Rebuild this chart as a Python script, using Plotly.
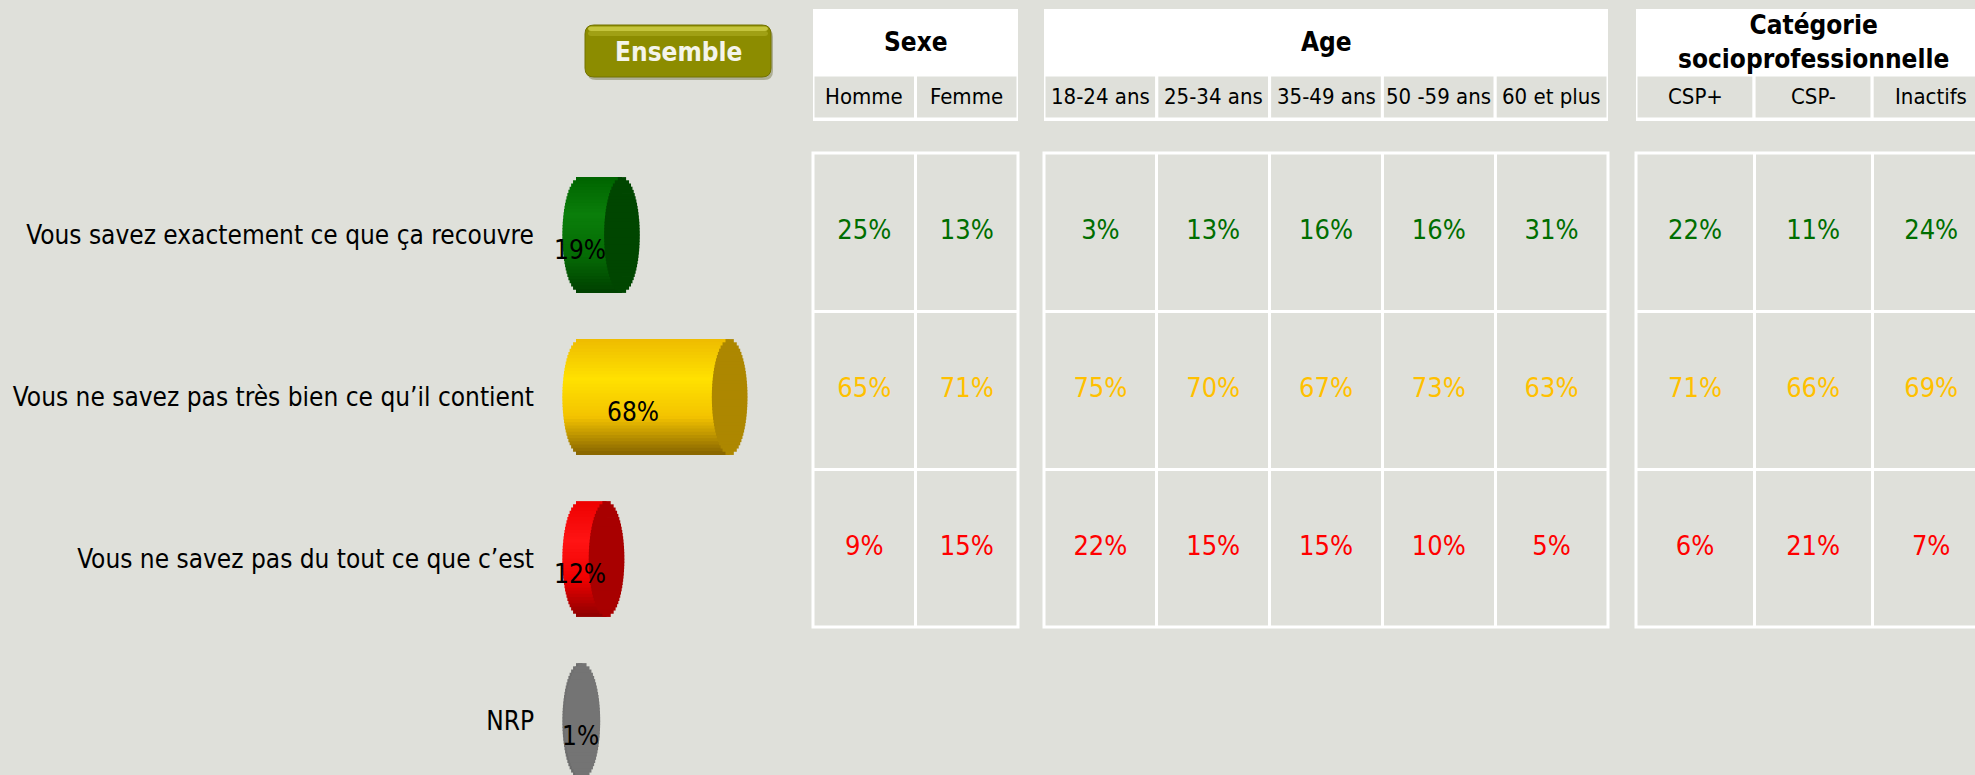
import math
import plotly.graph_objects as go

W, H = 1975, 775
BG = "#dfe0da"
FONT = "DejaVu Sans Condensed, DejaVu Sans, sans-serif"

# answers and the "Ensemble" totals
answers = [
    "Vous savez exactement ce que ça recouvre",
    "Vous ne savez pas très bien ce qu’il contient",
    "Vous ne savez pas du tout ce que c’est",
    "NRP",
]
ensemble = [19, 68, 12, 1]

# breakdown tables (one list per answer row)
sexe_cols = ["Homme", "Femme"]
sexe_vals = [[25, 13], [65, 71], [9, 15]]
age_cols = ["18-24 ans", "25-34 ans", "35-49 ans", "50 -59 ans", "60 et plus"]
age_vals = [[3, 13, 16, 16, 31], [75, 70, 67, 73, 63], [22, 15, 15, 10, 5]]
csp_cols = ["CSP+", "CSP-", "Inactifs"]
csp_vals = [[22, 11, 24], [71, 66, 69], [6, 21, 7]]

row_colors = ["#006e00", "#ffc000", "#ff0000"]

# cylinder shading, top (-1) to bottom (+1), and the darker right cap
cyl_grad = [
    [(-1, "#006400"), (-0.35, "#0a7e0a"), (0.35, "#056c05"), (1, "#004000")],
    [(-1, "#eebb00"), (-0.3, "#ffe100"), (0.35, "#f3c300"), (1, "#866400")],
    [(-1, "#ee0000"), (-0.3, "#ff1414"), (0.35, "#f00000"), (1, "#8e0000")],
    [(-1, "#6e6e6e"), (0, "#727272"), (1, "#6a6a6a")],
]
cyl_cap = ["#004600", "#ad8700", "#a80000", "#747474"]


def fx(p):
    return p / W


def fy(p):
    return 1 - p / H


def grad(stops, t):
    for (t0, c0), (t1, c1) in zip(stops, stops[1:]):
        if t <= t1:
            f = (t - t0) / (t1 - t0)
            a = [int(c0[k:k + 2], 16) for k in (1, 3, 5)]
            b = [int(c1[k:k + 2], 16) for k in (1, 3, 5)]
            return "rgb(%d,%d,%d)" % tuple(round(x + (y - x) * f) for x, y in zip(a, b))
    return stops[-1][1]


def rrect(x0, y0, x1, y1, r):
    # rounded rectangle path in paper coords, from pixel corners
    r_x, r_y = r / W, r / H
    a, b, c, d = fx(x0), fy(y0), fx(x1), fy(y1)
    return (f"M{a + r_x},{b} L{c - r_x},{b} Q{c},{b} {c},{b - r_y} "
            f"L{c},{d + r_y} Q{c},{d} {c - r_x},{d} L{a + r_x},{d} "
            f"Q{a},{d} {a},{d + r_y} L{a},{b - r_y} Q{a},{b} {a + r_x},{b} Z")


BH = 0.71   # cylinder thickness in row units
RX = 8.1    # end ellipse half width in % units
N = 36      # horizontal slices per cylinder

fig = go.Figure()
shapes = []
annotations = []

# --- cylinders (drawn as stacked horizontal slices) -------------------------
for i, v in enumerate(ensemble):
    cap_x, cap_y = [], []
    for j in range(N):
        t = -1 + (2 * j + 1) / N
        s = math.sqrt(1 - t * t)
        yy = i + t * BH / 2
        fig.add_trace(go.Scatter(
            x=[-RX * s, v], y=[yy, yy], mode="lines", xaxis="x", yaxis="y",
            line=dict(color=grad(cyl_grad[i], t), width=4), hoverinfo="skip",
        ))
        cap_x += [v - RX * s, v + RX * s, None]
        cap_y += [yy, yy, None]
    fig.add_trace(go.Scatter(
        x=cap_x, y=cap_y, mode="lines", xaxis="x", yaxis="y",
        line=dict(color=cyl_cap[i], width=4), hoverinfo="skip",
    ))
    annotations.append(dict(x=max(0, v / 2 - 10), y=i, xref="x", yref="y",
                            text=f"{v}%", showarrow=False, yshift=-15,
                            xanchor="center", yanchor="middle",
                            font=dict(size=26, color="black", family=FONT)))

# --- tables ---------------------------------------------------------------
groups = [
    ("x2", "Sexe", sexe_cols, sexe_vals, 813, 1018, 1.0),
    ("x3", "Age", age_cols, age_vals, 1044, 1608, 1.0),
    ("x4", "Catégorie<br>socioprofessionnelle", csp_cols, csp_vals, 1636, 1975, 1.045),
]

axis_layout = {}
for xa, title, cols, vals, p0, p1, ext in groups:
    xs, ys, txt, cols_c = [], [], [], []
    for r, row in enumerate(vals):
        for c, v in zip(cols, row):
            xs.append(c)
            ys.append(answers[r])
            txt.append(f"{v}%")
            cols_c.append(row_colors[r])
    fig.add_trace(go.Scatter(
        x=xs, y=ys, text=txt, mode="text", xaxis=xa, yaxis="y3",
        textfont=dict(size=27, color=cols_c, family=FONT), hoverinfo="skip",
    ))
    n = len(cols)
    xr = [-0.5, -0.5 + n / ext]
    axis_layout["xaxis" + xa[1:]] = dict(
        domain=[fx(p0), fx(p1)], anchor="y3", type="category",
        categoryorder="array", categoryarray=cols, range=xr,
        showgrid=True, gridcolor="white", gridwidth=3, tickson="boundaries",
        showticklabels=False, ticks="", zeroline=False, showline=False,
    )
    # outer border of the value cells
    shapes.append(dict(type="rect", xref=f"{xa} domain", yref="y3 domain",
                       x0=0, x1=ext if ext == 1.0 else 1.3, y0=0, y1=1,
                       line=dict(color="white", width=3), fillcolor="rgba(0,0,0,0)"))
    # header box
    shapes.append(dict(type="rect", xref=f"{xa} domain", yref="paper",
                       x0=0, x1=ext if ext == 1.0 else 1.3, y0=fy(121), y1=fy(9),
                       fillcolor="white", line=dict(width=0), layer="below"))
    for i, c in enumerate(cols):
        shapes.append(dict(type="rect", xref=xa, yref="paper",
                           x0=i - 0.5, x1=i + 0.5, y0=fy(119), y1=fy(75),
                           fillcolor=BG, line=dict(color="white", width=3)))
        annotations.append(dict(x=c, xref=xa, y=fy(97), yref="paper", text=c,
                                showarrow=False, xanchor="center", yanchor="middle",
                                font=dict(size=22, color="black", family=FONT)))
    annotations.append(dict(x=ext / 2, xref=f"{xa} domain", y=fy(42), yref="paper",
                            text=title, showarrow=False, xanchor="center", yanchor="middle",
                            font=dict(size=26, color="black", family=FONT, weight="bold")))

# --- Ensemble button ------------------------------------------------------
shapes.append(dict(type="path", path=rrect(587, 28, 773, 80, 9), xref="paper", yref="paper",
                   fillcolor="rgba(80,80,20,0.35)", line=dict(width=0)))
shapes.append(dict(type="path", path=rrect(585, 25, 771, 77, 9), xref="paper", yref="paper",
                   fillcolor="#8c8c00", line=dict(color="#727200", width=1)))
shapes.append(dict(type="path", path=rrect(588, 26.5, 768, 31, 3), xref="paper", yref="paper",
                   fillcolor="#c4c43c", line=dict(width=0)))
shapes.append(dict(type="path", path=rrect(588, 31, 768, 36, 3), xref="paper", yref="paper",
                   fillcolor="#a0a014", line=dict(width=0)))
annotations.append(dict(x=fx(678), y=fy(52), xref="paper", yref="paper", text="Ensemble",
                        showarrow=False, xanchor="center", yanchor="middle",
                        font=dict(size=26, color="#f4f4ea", family=FONT, weight="bold")))

fig.update_layout(
    template="none",
    width=W, height=H,
    margin=dict(l=0, r=0, t=0, b=0),
    paper_bgcolor=BG, plot_bgcolor=BG,
    font=dict(family=FONT, color="black"),
    showlegend=False,
    xaxis=dict(domain=[fx(545), fx(800)], range=[-16, 100], visible=False),
    yaxis=dict(domain=[0, fy(154)], range=[3.333, -0.5],
               tickvals=list(range(len(answers))), ticktext=answers,
               showgrid=False, zeroline=False, showline=False, ticks="",
               ticklabelstandoff=10, tickfont=dict(size=26, color="black", family=FONT)),
    yaxis3=dict(domain=[fy(627), fy(153)], anchor="x2", type="category",
                categoryorder="array", categoryarray=answers[:3], range=[2.5, -0.5],
                showgrid=True, gridcolor="white", gridwidth=3, tickson="boundaries",
                showticklabels=False, ticks="", zeroline=False, showline=False),
    shapes=shapes,
    annotations=annotations,
    **axis_layout,
)

fig.write_html("out.html", config={"displayModeBar": False},
               post_script="document.body.style.margin = '0';")
